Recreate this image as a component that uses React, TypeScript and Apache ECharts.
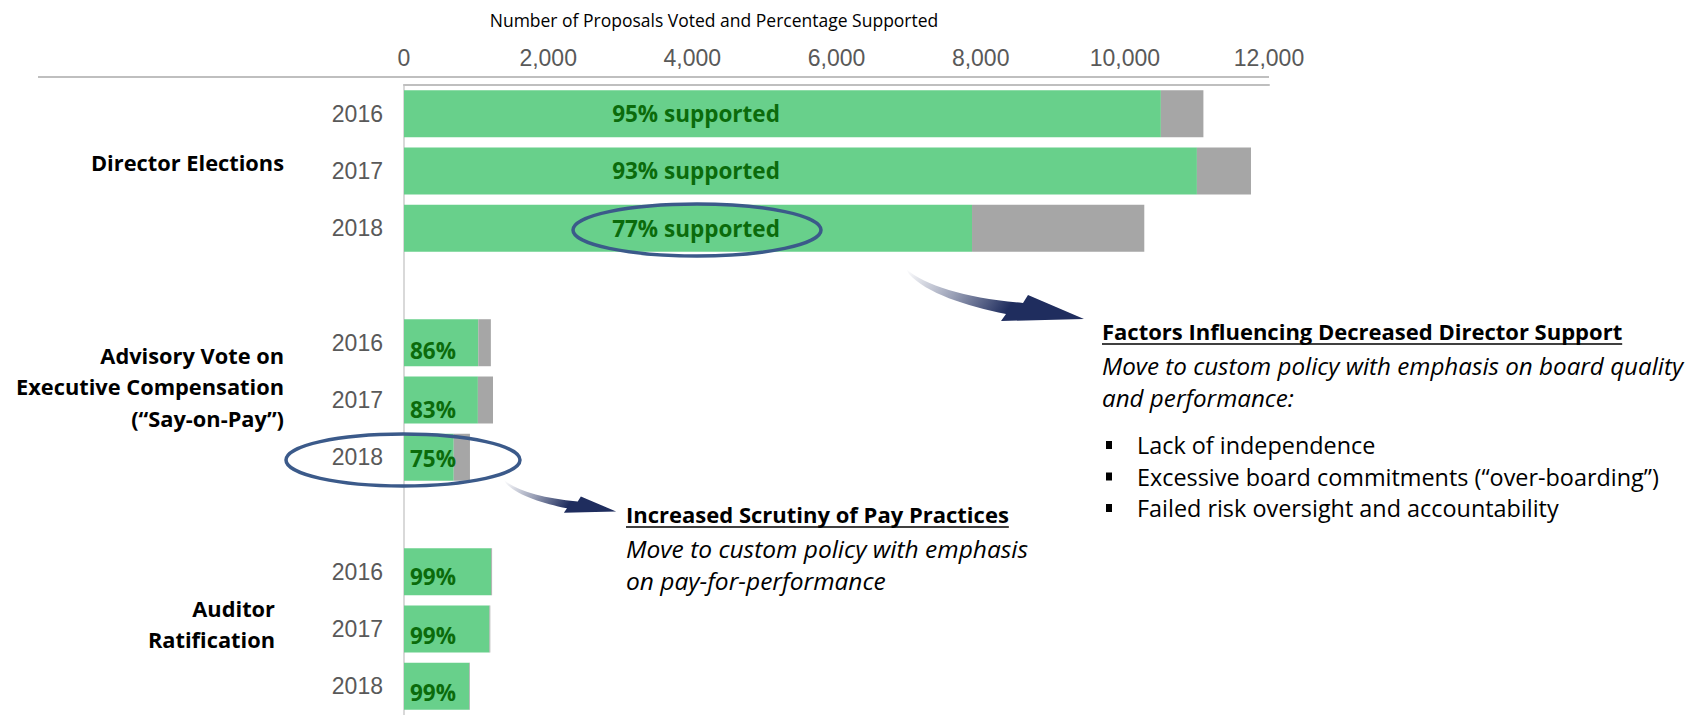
import React, { useEffect, useRef } from "react";
import * as echarts from "echarts";

// ---------- data ----------
const categories = ["2016", "2017", "2018", "", "2016", "2017", "2018", "", "2016", "2017", "2018"];
const supported = [10500, 11000, 7880, null, 1030, 1025, 690, null, 1210, 1185, 905];
const opposed = [590, 750, 2390, null, 175, 210, 225, null, 12, 12, 10];
const pctSupported = [95, 93, 77, null, 86, 83, 75, null, 99, 99, 99];
const xTicks = { min: 0, max: 12000, interval: 2000 };

const chartTitle = "Number of Proposals Voted and Percentage Supported";
const groupLabels = [
  { lines: ["Director Elections"], right: 284, y: 162 },
  { lines: ["Advisory Vote on", "Executive Compensation", "(\u201cSay-on-Pay\u201d)"], right: 284, y: 355 },
  { lines: ["Auditor", "Ratification"], right: 275, y: 608 },
];
const directorNote = {
  heading: "Factors Influencing Decreased Director Support",
  body: ["Move to custom policy with emphasis on board quality", "and performance:"],
  bullets: ["Lack of independence", "Excessive board commitments (\u201cover-boarding\u201d)", "Failed risk oversight and accountability"],
};
const payNote = {
  heading: "Increased Scrutiny of Pay Practices",
  body: ["Move to custom policy with emphasis", "on pay-for-performance"],
};

// ---------- styles ----------
const GREEN = "#68D08B";
const GREY = "#A6A6A6";
const LABEL_GREEN = "#0B6B0B";
const NAVY = "#3B5A8A";
const SANS = "'Open Sans', 'Noto Sans', sans-serif";
const ARIAL = "'Liberation Sans', Arial, sans-serif";
// small vertical nudges of the in-bar percentage labels (style only)
const labelShiftY = [0, 0, 0, 0, 8, 9, 1, 0, 5, 6, 6];

echarts.graphic.registerShape(
  "curvedArrow",
  echarts.graphic.extendPath(
    "M0,0 C20,17 60,29 117,34 L122,26 L178,50 L95,52 L100,45 C60,37 20,24 3,5 Z",
    {}
  )
);

function measure(text: string, font: string) {
  const ctx = document.createElement("canvas").getContext("2d");
  if (!ctx) return text.length * 10;
  ctx.font = font;
  return ctx.measureText(text).width;
}

function arrowFill() {
  return new echarts.graphic.LinearGradient(0, 0, 1, 0.2, [
    { offset: 0, color: "rgba(31,45,94,0)" },
    { offset: 0.35, color: "rgba(31,45,94,0.45)" },
    { offset: 0.7, color: "#1F2D5E" },
    { offset: 1, color: "#1F2D5E" },
  ]);
}

function buildGraphics() {
  const g: any[] = [];
  // long rule under the axis labels
  g.push({ type: "line", z: 100, shape: { x1: 38, y1: 77, x2: 1269, y2: 77 }, style: { stroke: "#BFBFBF", lineWidth: 2 } });
  // chart title
  g.push({
    type: "text", z: 100, x: 714, y: 20,
    style: { text: chartTitle, align: "center", verticalAlign: "middle", fontFamily: SANS, fontSize: 17.5, fill: "#000" },
  });
  // group labels
  groupLabels.forEach((gl) => {
    gl.lines.forEach((ln, i) => {
      g.push({
        type: "text", z: 100, x: gl.right, y: gl.y + i * 31.5,
        style: { text: ln, align: "right", verticalAlign: "middle", fontFamily: SANS, fontWeight: "bold", fontSize: 21.8, fill: "#000" },
      });
    });
  });
  // ellipses
  g.push({ type: "ellipse", z: 110, shape: { cx: 697, cy: 230, rx: 124, ry: 26 }, style: { fill: "none", stroke: NAVY, lineWidth: 3.5 } });
  g.push({ type: "ellipse", z: 110, shape: { cx: 403, cy: 460, rx: 117, ry: 26 }, style: { fill: "none", stroke: NAVY, lineWidth: 3.5 } });
  // arrows
  g.push({ type: "curvedArrow", z: 110, x: 906, y: 269, style: { fill: arrowFill() } });
  g.push({ type: "curvedArrow", z: 110, x: 504, y: 480, scaleX: 0.63, scaleY: 0.63, style: { fill: arrowFill() } });

  // notes
  const headFont = 22;
  const addNote = (note: any, x: number, y: number, bodyFont: number) => {
    const hw = measure(note.heading, `bold ${headFont}px 'Open Sans'`);
    g.push({
      type: "text", z: 100, x, y,
      style: { text: note.heading, align: "left", verticalAlign: "middle", fontFamily: SANS, fontWeight: "bold", fontSize: headFont, fill: "#000" },
    });
    g.push({ type: "line", z: 100, shape: { x1: x, y1: y + 13, x2: x + hw, y2: y + 13 }, style: { stroke: "#000", lineWidth: 1.5 } });
    note.body.forEach((ln: string, i: number) => {
      g.push({
        type: "text", z: 100, x, y: y + 34 + i * 32,
        style: { text: ln, align: "left", verticalAlign: "middle", fontFamily: SANS, fontStyle: "italic", fontSize: bodyFont, fill: "#000" },
      });
    });
    (note.bullets || []).forEach((ln: string, i: number) => {
      const by = y + 114 + i * 31.5;
      g.push({ type: "rect", z: 100, shape: { x: x + 4, y: by - 4, width: 6, height: 8 }, style: { fill: "#000" } });
      g.push({
        type: "text", z: 100, x: x + 35, y: by,
        style: { text: ln, align: "left", verticalAlign: "middle", fontFamily: SANS, fontSize: 23.4, fill: "#000" },
      });
    });
  };
  addNote(directorNote, 1102, 331, 24.2);
  addNote(payNote, 626, 514, 24.5);
  return g;
}

export default function App() {
  const ref = useRef<HTMLDivElement>(null);
  useEffect(() => {
    if (!ref.current) return;
    const chart = echarts.init(ref.current, null, { renderer: "svg" });

    const bigLabel = (pct: number) => ({
      show: true,
      position: [292, "50%"],
      align: "center",
      verticalAlign: "middle",
      fontFamily: SANS,
      fontWeight: "bold",
      fontSize: 22.5,
      color: LABEL_GREEN,
      formatter: `${pct}% supported`,
    });
    const smallLabel = (pct: number, dy: number) => ({
      show: true,
      position: [6, "50%"],
      offset: [0, dy],
      align: "left",
      verticalAlign: "middle",
      fontFamily: SANS,
      fontWeight: "bold",
      fontSize: 22.5,
      color: LABEL_GREEN,
      formatter: `${pct}%`,
    });

    const supportedData = supported.map((v, i) => {
      if (v == null) return null;
      const pct = pctSupported[i] as number;
      return { value: v, label: i < 3 ? bigLabel(pct) : smallLabel(pct, labelShiftY[i]) };
    });

    chart.setOption({
      animation: false,
      backgroundColor: "#FFFFFF",
      textStyle: { fontFamily: SANS },
      grid: { left: 404, width: 865, top: 85, height: 638, containLabel: false },
      xAxis: {
        type: "value",
        position: "top",
        min: xTicks.min,
        max: xTicks.max,
        interval: xTicks.interval,
        axisLine: { show: true, lineStyle: { color: "#BFBFBF", width: 2 } },
        axisTick: { show: false },
        splitLine: { show: false },
        axisLabel: {
          margin: 16,
          color: "#595959",
          fontFamily: ARIAL,
          fontSize: 23,
          formatter: (v: number) => v.toLocaleString("en-US"),
        },
      },
      yAxis: {
        type: "category",
        inverse: true,
        data: categories,
        axisLine: { show: true, lineStyle: { color: "#D9D9D9", width: 2 } },
        axisTick: { show: false },
        splitLine: { show: false },
        axisLabel: { margin: 21, color: "#595959", fontFamily: ARIAL, fontSize: 23 },
      },
      series: [
        {
          name: "Supported",
          type: "bar",
          stack: "votes",
          barWidth: 47,
          itemStyle: { color: GREEN },
          data: supportedData,
        },
        {
          name: "Not supported",
          type: "bar",
          stack: "votes",
          barWidth: 47,
          itemStyle: { color: GREY },
          data: opposed,
        },
      ],
      graphic: buildGraphics(),
    });
    return () => chart.dispose();
  }, []);
  return <div ref={ref} style={{ position: "fixed", left: 0, top: 0, width: 1707, height: 715 }} />;
}
